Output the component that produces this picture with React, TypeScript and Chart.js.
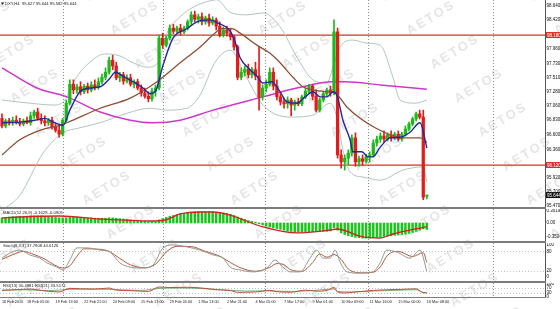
import React, { useEffect, useRef } from "react";
import { Chart, registerables } from "chart.js";
Chart.register(...registerables);

// ---------- candles (H4) ----------
const candleOpen = [96.86,96.74,96.82,96.79,96.83,96.80,96.77,96.82,96.79,96.90,
96.96,96.86,96.82,96.79,96.83,96.72,96.67,96.61,96.83,97.10,
97.40,97.31,97.36,97.28,97.37,97.31,97.39,97.36,97.44,97.51,
97.59,97.78,97.69,97.50,97.55,97.45,97.50,97.40,97.44,97.34,
97.26,97.21,97.17,97.29,97.34,98.13,98.02,98.13,98.29,98.24,
98.29,98.23,98.29,98.39,98.50,98.43,98.47,98.39,98.45,98.37,
98.42,98.32,98.18,98.26,98.21,98.15,97.99,97.51,97.59,97.64,
97.55,97.63,97.53,97.20,97.34,97.40,97.59,97.37,97.20,97.12,
97.09,97.15,97.07,97.12,97.09,97.20,97.29,97.37,97.21,96.99,
97.15,97.25,97.31,97.26,98.23,96.28,96.17,96.23,96.31,96.55,
96.17,96.22,96.18,96.25,96.28,96.47,96.53,96.58,96.53,96.60,
96.55,96.61,96.53,96.61,96.69,96.77,96.85,96.93,96.88,95.627];
const candleHigh = [96.93,96.85,96.86,96.88,96.90,96.86,96.85,96.88,96.96,96.99,
97.02,96.93,96.90,96.86,96.88,96.77,96.77,96.86,97.15,97.47,
97.47,97.40,97.44,97.40,97.42,97.44,97.47,97.50,97.56,97.66,
97.83,97.86,97.75,97.59,97.59,97.55,97.56,97.47,97.48,97.39,
97.34,97.28,97.34,97.39,98.18,98.21,98.16,98.34,98.35,98.32,
98.35,98.32,98.42,98.55,98.56,98.51,98.53,98.48,98.51,98.47,
98.45,98.39,98.31,98.32,98.29,98.18,98.02,97.66,97.69,97.72,
97.67,97.75,97.99,97.39,97.47,97.66,97.66,97.47,97.25,97.18,
97.20,97.18,97.15,97.18,97.23,97.34,97.40,97.40,97.31,97.18,
97.28,97.34,97.37,98.42,98.29,96.36,96.28,96.36,96.60,96.63,
96.26,96.28,96.29,96.33,96.52,96.58,96.63,96.66,96.63,96.66,
96.64,96.66,96.64,96.74,96.80,96.88,96.96,96.99,96.99,95.644];
const candleLow = [96.71,96.71,96.75,96.75,96.77,96.74,96.74,96.77,96.75,96.86,
96.83,96.77,96.74,96.75,96.69,96.64,96.56,96.58,96.80,97.07,
97.25,97.26,97.23,97.25,97.26,97.28,97.31,97.32,97.40,97.47,
97.56,97.63,97.47,97.44,97.40,97.42,97.37,97.34,97.31,97.21,
97.18,97.12,97.13,97.21,97.31,97.97,97.99,98.10,98.20,98.21,
98.18,98.20,98.26,98.35,98.39,98.37,98.34,98.35,98.32,98.34,
98.26,98.15,98.15,98.16,98.10,97.94,97.47,97.47,97.53,97.50,
97.50,97.47,96.99,97.15,97.28,97.37,97.31,97.15,97.07,97.02,
97.02,96.90,96.99,97.06,97.06,97.17,97.25,97.15,96.96,96.96,
97.12,97.21,97.21,97.23,96.23,96.07,96.04,96.12,96.26,96.10,
96.10,96.12,96.15,96.17,96.25,96.42,96.48,96.48,96.50,96.50,
96.52,96.50,96.50,96.58,96.66,96.74,96.82,96.85,95.57,95.582];
const candleClose = [96.74,96.82,96.79,96.83,96.80,96.77,96.82,96.79,96.90,96.96,
96.86,96.82,96.79,96.83,96.72,96.67,96.61,96.83,97.10,97.40,
97.31,97.36,97.28,97.37,97.31,97.39,97.36,97.44,97.51,97.59,
97.78,97.69,97.50,97.55,97.45,97.50,97.40,97.44,97.34,97.26,
97.21,97.17,97.29,97.34,98.13,98.02,98.13,98.29,98.24,98.29,
98.23,98.29,98.39,98.50,98.43,98.47,98.39,98.45,98.37,98.42,
98.32,98.18,98.26,98.21,98.15,97.99,97.51,97.59,97.64,97.55,
97.63,97.53,97.20,97.34,97.40,97.59,97.37,97.20,97.12,97.09,
97.15,97.07,97.12,97.09,97.20,97.29,97.37,97.21,96.99,97.15,
97.25,97.31,97.26,98.23,96.28,96.17,96.23,96.31,96.55,96.17,
96.22,96.18,96.25,96.28,96.47,96.53,96.58,96.53,96.60,96.55,
96.61,96.53,96.61,96.69,96.77,96.85,96.93,96.88,95.61,95.644];

// ---------- moving averages / bands (bar index, price) ----------
const fastMaIdx = [0,5,9.2,12,14.8,17.1,19,21.8,24.6,27.5,30.3,31.7,33.9,36.7,39.5,41.5,42.9,45.1,47.9,51.8,54.6,58.3,60.5,63.9,65.3,66.7,69.5,71.4,73.1,75.6,77.9,79.8,82.6,84.9,87.1,89.1,91,92.7,93.8,95.5,97.5,98.3,100.8,102.5,103.9,105.9,108.7,111.5,114.3,117.1,119];
const fastMaVal = [96.79,96.80,96.83,96.86,96.79,96.75,96.99,97.28,97.34,97.36,97.50,97.59,97.53,97.44,97.34,97.25,97.28,97.70,98.13,98.28,98.39,98.42,98.37,98.24,98.07,97.82,97.63,97.53,97.42,97.44,97.28,97.12,97.10,97.20,97.28,97.20,97.20,97.28,97.23,96.83,96.52,96.33,96.33,96.25,96.25,96.40,96.55,96.56,96.64,96.79,96.39];
const slowMaIdx = [0,5,10.6,16.2,18.2,27.5,35.9,43.4,49.9,55.5,59.1,61.6,64.4,66.7,71.4,75.1,77.9,81.5,84.3,87.1,91,93.3,96.6,100.3,104.5,108.7,111.5,117.1,119];
const slowMaVal = [96.28,96.52,96.67,96.75,96.79,97.02,97.18,97.44,97.74,97.99,98.18,98.28,98.28,98.21,98.02,97.89,97.74,97.51,97.36,97.31,97.28,97.26,97.04,96.86,96.71,96.60,96.55,96.55,96.48];
const longMaIdx = [0,9.8,18.2,27.5,35.9,42.3,49.9,59.1,73.1,82.6,92.7,96.1,105.9,119];
const longMaVal = [97.66,97.34,97.20,96.96,96.83,96.79,96.83,96.99,97.20,97.34,97.44,97.44,97.39,97.32];
const bandUpIdx = [0,7.8,14.8,17.6,20.4,24.6,28.9,33,36.7,40.6,43.7,46.2,49.9,53.5,56.9,60.2,63.9,68.6,73.1,77.9,82.6,87.1,91,92.7,94.7,98.3,102.2,105.9,109.5,111.5,115.7,119];
const bandUpVal = [97.15,97.10,97.07,97.15,97.47,97.75,97.88,97.85,97.74,97.67,97.74,98.21,98.47,98.62,98.70,98.74,98.54,98.50,98.53,98.31,97.83,97.47,97.42,97.67,97.99,98.10,98.05,98.02,97.51,97.15,97.10,97.15];
const bandLoIdx = [0,5,11.5,17.1,21.8,27.5,35,41.5,46.2,51.8,55.5,59.7,63.9,68.1,73.1,80.7,87.1,91.9,93.8,95.5,97.5,101.1,105.9,112.3,117.9,119];
const bandLoVal = [95.40,95.64,96.31,96.63,96.71,96.79,96.94,97.02,96.99,97.02,97.23,97.75,97.94,97.55,97.07,96.88,96.91,97.10,96.88,96.36,96.01,95.93,95.88,96.04,96.09,95.85];
const levelLines = [98.18, 96.12];
const levelLabels = ["98.180", "96.120"];
const lastPrice = 95.644;
const lastPriceLabel = "95.644";

// ---------- MACD ----------
const macdHist = [0.13,0.14,0.15,0.16,0.16,0.17,0.17,0.17,0.18,0.18,
0.18,0.18,0.17,0.16,0.15,0.14,0.13,0.13,0.13,0.14,
0.14,0.14,0.14,0.13,0.13,0.13,0.12,0.12,0.12,0.12,
0.13,0.13,0.12,0.11,0.10,0.09,0.08,0.07,0.06,0.05,
0.04,0.03,0.03,0.03,0.08,0.11,0.14,0.17,0.19,0.21,
0.23,0.24,0.25,0.27,0.28,0.28,0.28,0.28,0.28,0.28,
0.27,0.26,0.25,0.24,0.22,0.19,0.15,0.12,0.09,0.06,
0.04,0.02,-0.02,-0.05,-0.08,-0.10,-0.12,-0.14,-0.16,-0.18,
-0.20,-0.21,-0.22,-0.23,-0.23,-0.23,-0.22,-0.22,-0.22,-0.22,
-0.21,-0.21,-0.20,-0.12,-0.18,-0.25,-0.29,-0.32,-0.34,-0.36,
-0.37,-0.38,-0.38,-0.38,-0.37,-0.36,-0.35,-0.34,-0.33,-0.32,
-0.31,-0.30,-0.29,-0.28,-0.26,-0.24,-0.21,-0.18,-0.15,-0.1628];
const macdSigIdx = [0,5,16.2,27.5,41.5,45.7,49.9,55.5,59.1,63.9,73.1,82.6,91.9,93.8,101.1,105.9,109.5,119];
const macdSigVal = [0.125,0.15,0.176,0.10,0.05,0.075,0.226,0.276,0.276,0.20,-0.10,-0.25,-0.176,-0.15,-0.35,-0.376,-0.276,-0.0905];

// ---------- Stochastic ----------
const stochMainIdx = [0,2.2,5,7.8,10.6,12.6,15.4,17.1,19,21,23.8,27.5,30.3,33,35.9,39.5,42.3,45.1,47.9,51.8,55.5,59.1,61.9,63.9,66.7,70.3,74.2,76.5,78.7,80.7,83.5,86.3,88.2,89.9,91.9,93.3,94.7,96.6,100.3,103.9,105.9,107.8,110.6,114.3,117.1,119];
const stochMainVal = [59,75,84,69,59,44,31,22,53,91,91,84,78,44,31,28,37,91,100,94,84,69,59,31,22,16,28,53,31,16,16,59,84,59,59,84,47,16,12,16,44,84,78,59,84,17.79];
const stochSigIdx = [0,3,6,9,12,14,17,19,21,23,27,30,33,36,40,43,46,49,53,57,61,64,67,71,75,77,79,81,84,87,89,91,93,95,97,101,104,106,108,111,115,118,119];
const stochSigVal = [55,70,80,70,56,42,28,35,65,88,87,80,58,38,29,40,78,96,95,80,65,45,28,18,30,42,38,22,18,45,72,62,70,55,25,13,15,32,68,80,64,76,44.61];

// ---------- RSI ----------
const rsi13Idx = [0,4,8,12,16,19,22,26,30,32,36,41,44,47,52,56,60,64,66,71,75,77,81,85,88,91,93,94,96,98,100,104,108,112,116,118,119];
const rsi13Val = [50,55,60,46,38,66,62,60,68,52,48,42,76,72,74,68,55,48,35,38,50,40,36,52,44,50,72,38,30,35,40,50,55,58,62,32,30.5];
const rsi21Idx = [0,6,13,19,26,32,39,44,50,56,62,68,74,81,86,93,94,98,104,110,116,118,119];
const rsi21Val = [52,55,48,58,60,56,50,65,68,64,55,45,46,42,47,60,42,38,45,50,55,34,33.5];

// ---------- axes ----------
const xLabelIdx = [0,7,15,23,31,39,47,55,63,71,79,87,95,103,111,119];
const xLabelText = ["16 Feb 2016","18 Feb 05:00","19 Feb 13:00","22 Feb 21:00","24 Feb 09:00","25 Feb 17:00","29 Feb 05:00","1 Mar 13:00","2 Mar 21:00","4 Mar 05:00","7 Mar 17:00","9 Mar 01:00","10 Mar 09:00","11 Mar 16:00","15 Mar 00:00","16 Mar 08:00"];
const gridIdx = [17.1, 45.1, 73.7, 102.5, 137.5];
const mainTickValues = [98.640,98.420,97.960,97.730,97.510,97.280,97.060,96.830,96.600,96.360,95.920,95.700,95.470];
const mainTickLabels = ["98.640","98.420","97.960","97.730","97.510","97.280","97.060","96.830","96.600","96.360","95.920","95.700","95.470"];
const macdTickValues = [0.3019, 0, -0.3504];
const macdTickLabels = ["0.3019", "0.00", "-0.3504"];
const stochTickValues = [100, 80, 20, 0];
const rsiTickValues = [100, 70, 30, 0];

const FONT = '"Liberation Sans", Arial, sans-serif';
const X_MIN = -0.56;
const X_MAX = 152.1;
const GREEN = "#1cb81c";
const RED = "#e21c1c";

const idx = candleOpen.map((_, i) => i);
const pts = (xs: number[], ys: number[]) => xs.map((x, i) => ({ x, y: ys[i] }));

const decor: any = {
  id: "decor",
  beforeDraw(chart: any, _a: any, o: any) {
    const ctx = chart.ctx;
    ctx.save();
    ctx.fillStyle = "#ffffff";
    ctx.fillRect(0, 0, chart.width, chart.height);
    ctx.font = `bold 13px ${FONT}`;
    try { ctx.letterSpacing = "2px"; } catch (e) {}
    ctx.fillStyle = "#e6e6e6";
    ctx.textAlign = "center";
    ctx.textBaseline = "middle";
    for (let b = -2; b <= 10; b++) {
      for (let a = -2; a <= 4; a++) {
        const cx = 135 + 148 * a + 24 * b;
        const cy = 18 + 34 * b - o.offsetY;
        if (cy < -40 || cy > chart.height + 40 || cx < -60 || cx > 620) continue;
        ctx.save();
        ctx.translate(cx, cy);
        ctx.rotate(-0.55);
        ctx.fillText("AETOS", 0, 0);
        ctx.restore();
      }
    }
    ctx.restore();
  },
  beforeDatasetsDraw(chart: any, _a: any, o: any) {
    const ctx = chart.ctx;
    const { left, right, top, bottom } = chart.chartArea;
    const xs = chart.scales.x;
    const ys = chart.scales.y;
    ctx.save();
    ctx.lineWidth = 1;
    ctx.strokeStyle = "#8a8a8a";
    ctx.setLineDash([1, 2]);
    for (const v of gridIdx) {
      const px = Math.round(xs.getPixelForValue(v)) + 0.5;
      ctx.beginPath(); ctx.moveTo(px, top); ctx.lineTo(px, bottom); ctx.stroke();
    }
    ctx.strokeStyle = "#c4c4c4";
    for (const v of o.levels || []) {
      const py = Math.round(ys.getPixelForValue(v)) + 0.5;
      ctx.beginPath(); ctx.moveTo(left, py); ctx.lineTo(right, py); ctx.stroke();
    }
    ctx.setLineDash([]);
    for (const v of o.hLines || []) {
      const py = ys.getPixelForValue(v);
      ctx.strokeStyle = "#d8312c";
      ctx.lineWidth = 1.3;
      ctx.beginPath(); ctx.moveTo(left, py); ctx.lineTo(right, py); ctx.stroke();
    }
    ctx.restore();
  },
  afterDraw(chart: any, _a: any, o: any) {
    const ctx = chart.ctx;
    const ys = chart.scales.y;
    const { right } = chart.chartArea;
    ctx.save();
    ctx.font = `4.2px ${FONT}`;
    ctx.fillStyle = "#222";
    ctx.textAlign = "left";
    ctx.textBaseline = "top";
    if (o.icon) {
      ctx.beginPath(); ctx.moveTo(1, 2.5); ctx.lineTo(4, 2.5); ctx.lineTo(2.5, 5); ctx.closePath(); ctx.fill();
    }
    ctx.fillText(o.title, o.icon ? 5 : 3, o.titleY);
    for (const bx of o.boxes || []) {
      const py = ys.getPixelForValue(bx.value);
      ctx.fillStyle = bx.bg;
      ctx.fillRect(right + 1, py - 3, 15, 6);
      ctx.fillStyle = bx.fg;
      ctx.font = `4.5px ${FONT}`;
      ctx.textBaseline = "middle";
      ctx.fillText(bx.text, right + 2, py + 0.3);
    }
    ctx.restore();
  },
};

function yAxis(min: number, max: number, values: number[], labels: string[]) {
  return {
    type: "linear",
    position: "right",
    min,
    max,
    afterBuildTicks: (s: any) => { s.ticks = values.map((v) => ({ value: v })); },
    afterFit: (s: any) => { s.width = 15; s.paddingTop = 0; s.paddingBottom = 0; },
    ticks: { autoSkip: false, font: { size: 4.5, family: FONT }, color: "#111", padding: 1.5, callback: (_v: any, i: number) => labels[i] },
    grid: { display: false, drawTicks: false },
    border: { display: true, color: "#555", width: 1 },
  };
}

const xHidden = { type: "linear", min: X_MIN, max: X_MAX, display: false, offset: false };

function baseOptions(scales: any, decorOpts: any) {
  return {
    responsive: false,
    animation: false,
    events: [],
    layout: { padding: 0 },
    plugins: { legend: { display: false }, tooltip: { enabled: false }, decor: decorOpts },
    scales,
  };
}

const lineDs = (data: any[], color: string, width: number, order: number) => ({
  type: "line",
  data,
  borderColor: color,
  borderWidth: width,
  pointRadius: 0,
  fill: false,
  cubicInterpolationMode: "monotone",
  order,
});

export default function App() {
  const mainRef = useRef<HTMLCanvasElement>(null);
  const macdRef = useRef<HTMLCanvasElement>(null);
  const stochRef = useRef<HTMLCanvasElement>(null);
  const rsiRef = useRef<HTMLCanvasElement>(null);

  useEffect(() => {
    const bodyColors = candleClose.map((c, i) => (c >= candleOpen[i] ? GREEN : RED));
    const charts: Chart[] = [];

    charts.push(new Chart(mainRef.current as HTMLCanvasElement, {
      type: "bar",
      data: {
        datasets: [
          lineDs(pts(bandUpIdx, bandUpVal), "#b2c6bc", 1, 10),
          lineDs(pts(bandLoIdx, bandLoVal), "#b2c6bc", 1, 10),
          lineDs(pts(longMaIdx, longMaVal), "#cc38cc", 1.5, 9),
          {
            type: "bar",
            data: idx.map((i) => ({ x: i, y: [candleLow[i], candleHigh[i]] })),
            backgroundColor: bodyColors,
            barThickness: 1,
            grouped: false,
            borderWidth: 0,
            order: 8,
          },
          {
            type: "bar",
            data: idx.map((i) => ({ x: i, y: [candleOpen[i], candleClose[i]] })),
            backgroundColor: bodyColors,
            barThickness: 2.6,
            minBarLength: 1,
            grouped: false,
            borderWidth: 0,
            order: 7,
          },
          lineDs(pts(slowMaIdx, slowMaVal), "#8e4f33", 1.3, 2),
          lineDs(pts(fastMaIdx, fastMaVal), "#23279e", 1.4, 1),
        ],
      } as any,
      options: baseOptions(
        { x: xHidden, y: yAxis(95.455, 98.735, mainTickValues, mainTickLabels) },
        {
          offsetY: 0,
          title: "DXY,H4  95.627 95.644 95.582 95.644",
          titleY: 2,
          icon: true,
          hLines: levelLines,
          boxes: [
            { value: levelLines[0], text: levelLabels[0], bg: "#d8312c", fg: "#fff" },
            { value: levelLines[1], text: levelLabels[1], bg: "#d8312c", fg: "#fff" },
            { value: lastPrice, text: lastPriceLabel, bg: "#111", fg: "#fff" },
          ],
        }
      ) as any,
      plugins: [decor],
    }));

    charts.push(new Chart(macdRef.current as HTMLCanvasElement, {
      type: "bar",
      data: {
        datasets: [
          {
            type: "bar",
            data: idx.map((i) => ({ x: i, y: macdHist[i] })),
            backgroundColor: "#16c816",
            barThickness: 1.8,
            grouped: false,
            borderWidth: 0,
            order: 2,
          },
          lineDs(pts(macdSigIdx, macdSigVal), "#cf2222", 1.3, 1),
        ],
      } as any,
      options: baseOptions(
        { x: xHidden, y: yAxis(-0.4516, 0.3513, macdTickValues, macdTickLabels) },
        { offsetY: 209, title: "MACD(12,26,9) -0.1628 -0.0905", titleY: 2 }
      ) as any,
      plugins: [decor],
    }));

    charts.push(new Chart(stochRef.current as HTMLCanvasElement, {
      type: "line",
      data: {
        datasets: [
          lineDs(pts(stochSigIdx, stochSigVal), "#b65a45", 1, 2),
          lineDs(pts(stochMainIdx, stochMainVal), "#8f9c90", 1, 1),
        ],
      } as any,
      options: baseOptions(
        { x: xHidden, y: yAxis(-12.5, 106.25, stochTickValues, stochTickValues.map(String)) },
        { offsetY: 243, title: "Stoch(8,3,3) 17.7908 44.6126", titleY: 1, levels: [80, 20] }
      ) as any,
      plugins: [decor],
    }));

    charts.push(new Chart(rsiRef.current as HTMLCanvasElement, {
      type: "line",
      data: {
        datasets: [
          lineDs(pts(rsi21Idx, rsi21Val), "#7fb07f", 1, 2),
          lineDs(pts(rsi13Idx, rsi13Val), "#b8503c", 1, 1),
        ],
      } as any,
      options: baseOptions(
        {
          x: {
            type: "linear",
            position: "bottom",
            min: X_MIN,
            max: X_MAX,
            offset: false,
            afterBuildTicks: (s: any) => { s.ticks = xLabelIdx.map((v) => ({ value: v })); },
            afterFit: (s: any) => { s.height = 12; s.paddingLeft = 0; s.paddingRight = 0; },
            ticks: { autoSkip: false, maxRotation: 0, align: "start", labelOffset: 0, padding: 2.5, font: { size: 3.8, family: FONT }, color: "#222", callback: (_v: any, i: number) => xLabelText[i] },
            grid: { display: false, drawTicks: false },
            border: { display: false },
          },
          y: yAxis(-1, 107, rsiTickValues, rsiTickValues.map(String)),
        },
        { offsetY: 283, title: "RSI(13) 30.4981 RSI(21) 33.5171", titleY: 1, levels: [70, 30] }
      ) as any,
      plugins: [decor],
    }));

    return () => charts.forEach((c) => c.destroy());
  }, []);

  const sep = (top: number, h: number) => (
    <div style={{ position: "absolute", left: 0, top, width: 546, height: h, background: "#7c7c7c" }} />
  );

  return (
    <div style={{ position: "fixed", left: 0, top: 0, width: 560, height: 309, background: "#fff", overflow: "hidden" }}>
      <canvas ref={mainRef} width={560} height={207} style={{ position: "absolute", left: 0, top: 0 }} />
      <canvas ref={macdRef} width={560} height={32} style={{ position: "absolute", left: 0, top: 209 }} />
      <canvas ref={stochRef} width={560} height={38} style={{ position: "absolute", left: 0, top: 243 }} />
      <canvas ref={rsiRef} width={560} height={26} style={{ position: "absolute", left: 0, top: 283 }} />
      {sep(207, 2)}
      {sep(241, 2)}
      {sep(281, 2)}
      {sep(297, 1)}
    </div>
  );
}
